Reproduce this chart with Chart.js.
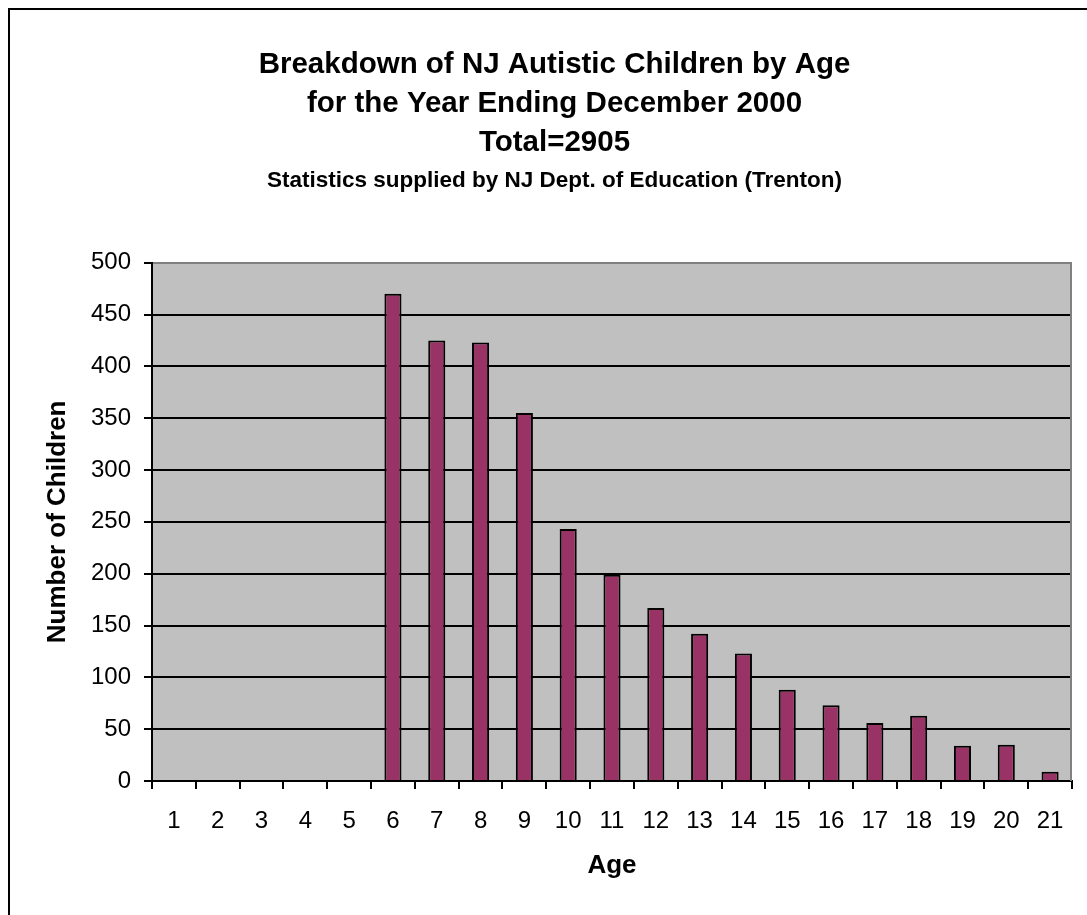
<!DOCTYPE html>
<html>
<head>
<meta charset="utf-8">
<title>Breakdown of NJ Autistic Children by Age</title>
<script src="https://cdn.jsdelivr.net/npm/chart.js@4.4.1/dist/chart.umd.min.js"></script>
<style>
  html, body { margin: 0; padding: 0; background: #ffffff; overflow: hidden; }
  #wrap { position: relative; width: 1087px; height: 915px; overflow: hidden; }
  #wrap canvas { position: absolute; left: 0; top: 0; }
  #frame { position: absolute; left: 8px; top: 8px; width: 1200px; height: 1000px;
           border: 2px solid #000; pointer-events: none; }
</style>
</head>
<body>
<div id="wrap">
  <canvas id="chart" width="1087" height="915"></canvas>
  <div id="frame"></div>
</div>
<script>
// Ages on the category axis
const ages = ['1','2','3','4','5','6','7','8','9','10','11','12','13','14','15','16','17','18','19','20','21'];
// Number of autistic children at each age (year ending December 2000)
const children = [0, 0, 0, 0, 0, 470, 425, 423, 355, 243, 199, 167, 142, 123, 88, 73, 56, 63, 34, 35, 9];

const titleLines = [
  'Breakdown of NJ Autistic Children by Age',
  'for the Year Ending December 2000',
  'Total=2905'
];
const sourceLine = 'Statistics supplied by NJ Dept. of Education (Trenton)';
const xTitle = 'Age';
const yTitle = 'Number of Children';
const yMin = 0, yMax = 500, yStep = 50;

const FONT = "'Liberation Sans', Arial, Helvetica, sans-serif";

// Grey plot area with a grey edge on the right
const plotArea = {
  id: 'plotArea',
  beforeDraw(chart) {
    const { ctx, chartArea: a } = chart;
    ctx.save();
    ctx.fillStyle = '#c0c0c0';
    ctx.fillRect(a.left, a.top, a.right - a.left, a.bottom - a.top);
    ctx.restore();
  },
  afterDatasetsDraw(chart) {
    const { ctx, chartArea: a } = chart;
    ctx.save();
    ctx.strokeStyle = '#808080';
    ctx.lineWidth = 2;
    ctx.beginPath();
    ctx.moveTo(a.right - 1, a.top);
    ctx.lineTo(a.right - 1, a.bottom);
    ctx.stroke();
    ctx.restore();
  }
};

new Chart(document.getElementById('chart'), {
  type: 'bar',
  data: {
    labels: ages,
    datasets: [{
      label: yTitle,
      data: children,
      backgroundColor: '#993366',
      borderColor: '#000000',
      borderWidth: 2,
      barPercentage: 0.39,
      categoryPercentage: 1.0
    }]
  },
  options: {
    responsive: false,
    animation: false,
    devicePixelRatio: 1,
    layout: { padding: { top: 0, left: 37, right: 15, bottom: 0 } },
    plugins: {
      legend: { display: false },
      tooltip: { enabled: false },
      title: {
        display: true,
        text: titleLines,
        color: '#000',
        font: { family: FONT, size: 29.5, weight: 'bold', lineHeight: 1.33 },
        padding: { top: 45, bottom: 0 }
      },
      subtitle: {
        display: true,
        text: sourceLine,
        color: '#000',
        font: { family: FONT, size: 22.5, weight: 'bold', lineHeight: 1.2 },
        padding: { top: 5, bottom: 68 }
      }
    },
    scales: {
      x: {
        grid: {
          display: true,
          drawOnChartArea: false,
          drawTicks: true,
          tickLength: 8,
          color: '#000',
          lineWidth: 2,
          offset: true
        },
        border: { display: true, color: '#000', width: 2 },
        ticks: {
          color: '#000',
          font: { family: FONT, size: 24 },
          padding: 18,
          maxRotation: 0,
          autoSkip: false
        },
        title: {
          display: true,
          text: xTitle,
          color: '#000',
          font: { family: FONT, size: 26, weight: 'bold', lineHeight: 1.2 },
          padding: { top: 0, bottom: 34 }
        },
        afterFit(scale) { scale.height = 134; }
      },
      y: {
        min: yMin,
        max: yMax,
        ticks: {
          stepSize: yStep,
          color: '#000',
          font: { family: FONT, size: 24 },
          padding: 13
        },
        grid: {
          color: (c) => (c.tick && c.tick.value === yMax ? '#808080' : '#000'),
          tickColor: '#000',
          lineWidth: 2,
          tickLength: 8
        },
        border: { display: true, color: '#000', width: 2 },
        title: {
          display: true,
          text: yTitle,
          color: '#000',
          font: { family: FONT, size: 26, weight: 'bold', lineHeight: 1.2 },
          padding: { top: 5, bottom: 0 }
        },
        afterFit(scale) { scale.width = 115; }
      }
    }
  },
  plugins: [plotArea]
});
</script>
</body>
</html>
